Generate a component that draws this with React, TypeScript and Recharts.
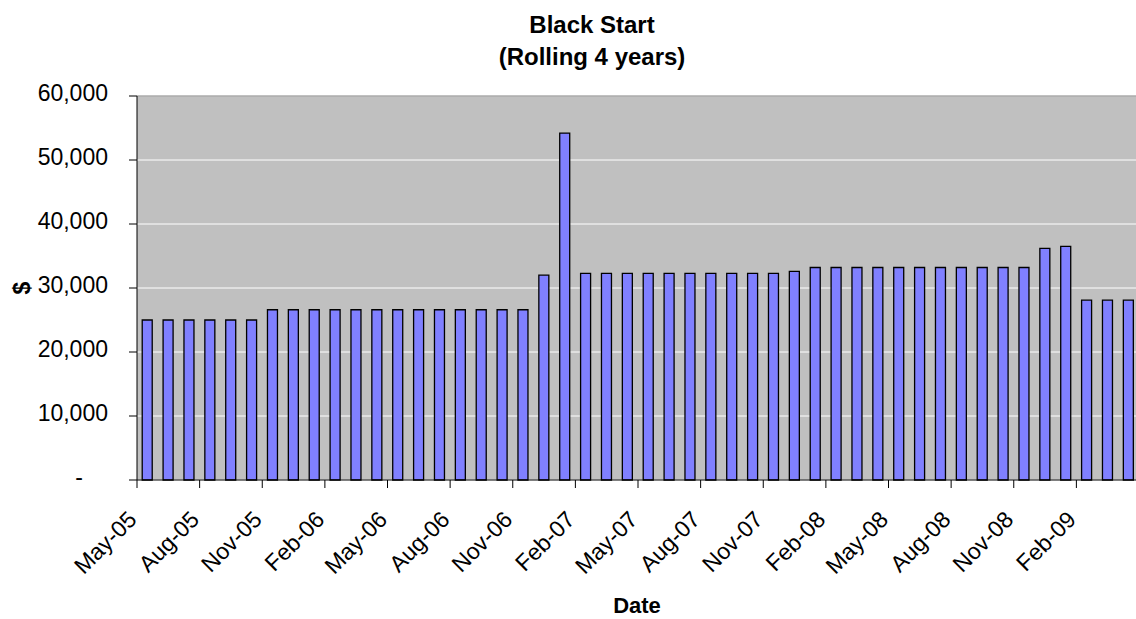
import React from 'react';
import {
  BarChart,
  Bar,
  XAxis,
  YAxis,
  CartesianGrid,
  ReferenceLine,
} from 'recharts';

// Monthly Black Start cost, May-05 through Apr-09 (rolling four years)
const months: string[] = [
  'May-05', 'Jun-05', 'Jul-05', 'Aug-05', 'Sep-05', 'Oct-05', 'Nov-05', 'Dec-05',
  'Jan-06', 'Feb-06', 'Mar-06', 'Apr-06', 'May-06', 'Jun-06', 'Jul-06', 'Aug-06',
  'Sep-06', 'Oct-06', 'Nov-06', 'Dec-06', 'Jan-07', 'Feb-07', 'Mar-07', 'Apr-07',
  'May-07', 'Jun-07', 'Jul-07', 'Aug-07', 'Sep-07', 'Oct-07', 'Nov-07', 'Dec-07',
  'Jan-08', 'Feb-08', 'Mar-08', 'Apr-08', 'May-08', 'Jun-08', 'Jul-08', 'Aug-08',
  'Sep-08', 'Oct-08', 'Nov-08', 'Dec-08', 'Jan-09', 'Feb-09', 'Mar-09', 'Apr-09',
];

const costs: number[] = [
  25000, 25000, 25000, 25000, 25000, 25000, 26600, 26600,
  26600, 26600, 26600, 26600, 26600, 26600, 26600, 26600,
  26600, 26600, 26600, 32000, 54200, 32300, 32300, 32300,
  32300, 32300, 32300, 32300, 32300, 32300, 32300, 32600,
  33200, 33200, 33200, 33200, 33200, 33200, 33200, 33200,
  33200, 33200, 33200, 36200, 36500, 28100, 28100, 28100,
];

const yTicks: number[] = [0, 10000, 20000, 30000, 40000, 50000, 60000];

const data = months.map((month, i) => ({ month, cost: costs[i] }));

const FONT = '"Liberation Sans", Arial, Helvetica, sans-serif';
const WIDTH = 1136;
const HEIGHT = 619;
const Y_AXIS_WIDTH = 137;
const MARGIN = { top: 96, right: -3, bottom: 0, left: 0 };
const FALLBACK_HALF_BAND =
  (WIDTH - Y_AXIS_WIDTH - MARGIN.right) / months.length / 2;

const fmt = (v: number) => v.toLocaleString('en-US');

// Y tick: thousands separators, zero shown as a padded dash
const CostTick = (props: any) => {
  const { x, y, payload } = props;
  const isZero = payload.value === 0;
  return (
    <text
      x={x}
      y={y + 4.7}
      dx={isZero ? -25 : 0}
      textAnchor="end"
      fontFamily={FONT}
      fontSize={23}
      fill="#000"
    >
      {isZero ? '-' : fmt(payload.value)}
    </text>
  );
};

// X tick: tick mark on the category boundary, label rotated 45°
const MonthTick = (props: any) => {
  const { x, y, payload } = props;
  const half = typeof payload.offset === 'number' && payload.offset > 0
    ? payload.offset
    : FALLBACK_HALF_BAND;
  const bx = x - half;
  const lx = bx + 1;
  const ly = y + 41;
  return (
    <g>
      <line x1={bx} x2={bx} y1={y} y2={y + 8} stroke="#000" strokeWidth={1} />
      <text
        x={lx}
        y={ly}
        textAnchor="end"
        transform={`rotate(-45 ${lx} ${ly})`}
        fontFamily={FONT}
        fontSize={23}
        fill="#000"
      >
        {payload.value}
      </text>
    </g>
  );
};

export default function App() {
  return (
    <div
      style={{
        position: 'absolute',
        left: 0,
        top: 0,
        width: WIDTH,
        height: HEIGHT,
        background: '#FFFFFF',
        overflow: 'hidden',
      }}
    >
      <BarChart
        width={WIDTH}
        height={HEIGHT}
        data={data}
        margin={MARGIN}
        barCategoryGap="25%"
      >
        <CartesianGrid
          vertical={false}
          stroke="#FFFFFF"
          strokeWidth={1}
          fill="#C0C0C0"
          fillOpacity={1}
        />
        <ReferenceLine y={60000} stroke="#808080" strokeWidth={1} />
        <XAxis
          dataKey="month"
          height={HEIGHT - 480}
          interval={2}
          tickSize={0}
          tickMargin={0}
          tickLine={false}
          axisLine={{ stroke: '#000', strokeWidth: 1 }}
          tick={<MonthTick />}
        />
        <YAxis
          width={Y_AXIS_WIDTH}
          domain={[0, 60000]}
          ticks={yTicks}
          interval={0}
          tickSize={8}
          tickMargin={21}
          axisLine={{ stroke: '#000', strokeWidth: 1 }}
          tickLine={{ stroke: '#000', strokeWidth: 1 }}
          tick={<CostTick />}
        />
        <Bar
          dataKey="cost"
          fill="#8080FF"
          stroke="#000000"
          strokeWidth={1.3}
          isAnimationActive={false}
        />
      </BarChart>
      <svg
        width={WIDTH}
        height={HEIGHT}
        style={{ position: 'absolute', left: 0, top: 0, pointerEvents: 'none' }}
      >
        <text
          x={592}
          y={33}
          textAnchor="middle"
          fontFamily={FONT}
          fontWeight="bold"
          fontSize={24}
          fill="#000"
        >
          Black Start
        </text>
        <text
          x={592}
          y={65}
          textAnchor="middle"
          fontFamily={FONT}
          fontWeight="bold"
          fontSize={24}
          fill="#000"
        >
          (Rolling 4 years)
        </text>
        <text
          x={30}
          y={288}
          textAnchor="middle"
          transform="rotate(-90 30 288)"
          fontFamily={FONT}
          fontWeight="bold"
          fontSize={23}
          fill="#000"
        >
          $
        </text>
        <text
          x={637}
          y={613}
          textAnchor="middle"
          fontFamily={FONT}
          fontWeight="bold"
          fontSize={22}
          fill="#000"
        >
          Date
        </text>
      </svg>
    </div>
  );
}
